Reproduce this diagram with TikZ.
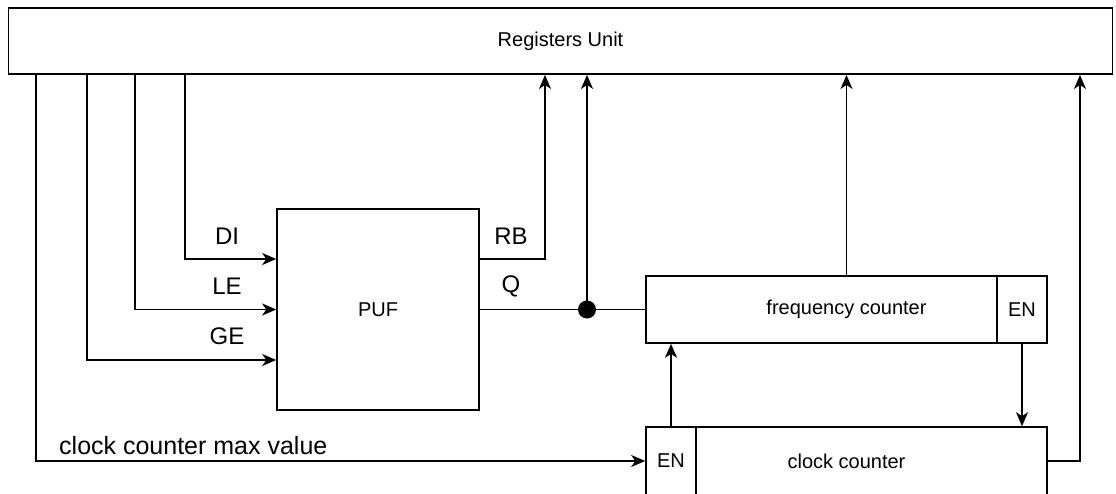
\documentclass[tikz,border=0pt]{standalone}
\usepackage{fontspec}
\setmainfont{Liberation Sans}
\usetikzlibrary{arrows.meta}
\begin{document}
\begin{tikzpicture}[x=1pt,y=-1pt,
  box/.style={draw,line width=1.6pt,inner sep=0pt,font=\fontsize{20}{24}\selectfont},
  lbl/.style={inner sep=0pt,font=\fontsize{24}{28}\selectfont},
  wire/.style={line width=1.6pt},
  arr/.style={line width=1.6pt,-{Stealth[length=14pt,width=12pt,inset=4pt]}}]
\useasboundingbox (0,0) rectangle (1116,493);
\clip (0,0) rectangle (1116,493);
% nodes
\node[box,line width=1.9pt,minimum width=1104pt,minimum height=66pt] (reg) at (560.5,41) {Registers Unit};
\node[box,minimum width=202pt,minimum height=201pt] (puf) at (378,309.5) {PUF};
\node[box,minimum width=401pt,minimum height=67pt] (fc) at (846.5,309.5) {frequency counter};
\node[box,minimum width=50pt,minimum height=67pt] (fcen) at (1022,309.5) {EN};
\node[box,minimum width=401pt,minimum height=68pt] (cc) at (846.5,461) {clock counter};
\node[box,minimum width=50pt,minimum height=68pt] (ccen) at (671,461) {EN};
\node[circle,fill=black,inner sep=0pt,minimum size=18pt] (dot) at (587,309.5) {};
% labels
\node[lbl] (ldi) at (227,236) {DI};
\node[lbl] (lle) at (227,286) {LE};
\node[lbl] (lge) at (227,336) {GE};
\node[lbl] (lrb) at (511,236) {RB};
\node[lbl] (lq) at (511,286) {Q};
\node[lbl,anchor=west,font=\fontsize{25}{29}\selectfont] (lmax) at (59,446) {clock counter max value};
% coordinates on the registers unit
\coordinate (xmax) at (36,0);
\coordinate (xge) at (87,0);
\coordinate (xle) at (135,0);
\coordinate (xdi) at (185,0);
\coordinate (xrb) at (545,0);
\coordinate (xcc) at (1080,0);
% connectors
\draw[arr] (xmax |- reg.south) |- (ccen.west);
\draw[arr] (xge |- reg.south) |- ([yshift=-50.5pt]puf.west);
\draw[arr] (xle |- reg.south) |- (puf.west);
\draw[arr] (xdi |- reg.south) |- ([yshift=50.5pt]puf.west);
\draw[arr] ([yshift=50.5pt]puf.east) -| (xrb |- reg.south);
\draw[wire] (puf.east) -- (fc.west);
\draw[arr] (dot.center) -- (dot |- reg.south);
\draw[arr] (fc.north) -- (fc.north |- reg.south);
\draw[arr] (ccen.north) -- (ccen.north |- fc.south);
\draw[arr] (fcen.south) -- (fcen.south |- cc.north);
\draw[arr] (cc.east) -| (xcc |- reg.south);
\end{tikzpicture}
\end{document}
